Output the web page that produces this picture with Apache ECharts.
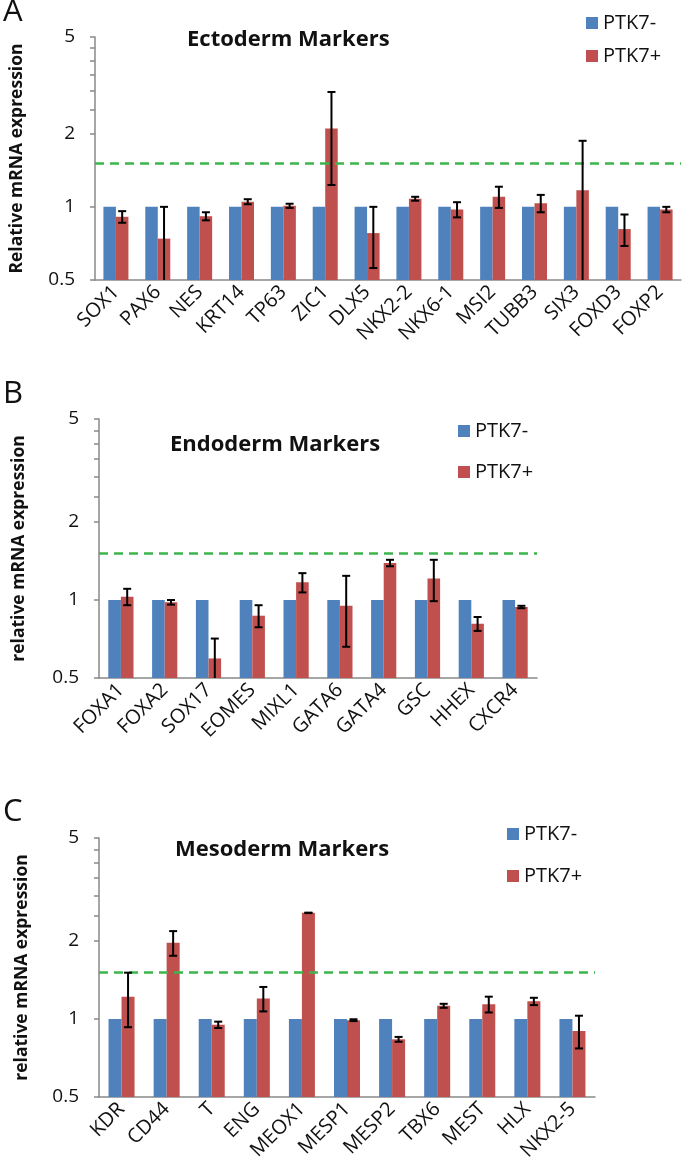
<!DOCTYPE html>
<html style="height: 100%">
<head>
    <meta charset="utf-8">
</head>
<body style="height: 100%; margin: 0; background: #fff">
<div id="container" style="width: 692px; height: 1175px"></div>
<script type="text/javascript" src="https://cdn.jsdelivr.net/npm/echarts@6/dist/echarts.min.js"></script>
<script type="text/javascript">
    // panel A - ectoderm
    var ectoGenes = ['SOX1', 'PAX6', 'NES', 'KRT14', 'TP63', 'ZIC1', 'DLX5', 'NKX2-2', 'NKX6-1', 'MSI2', 'TUBB3', 'SIX3', 'FOXD3', 'FOXP2'];
    var ectoNeg = [1, 1, 1, 1, 1, 1, 1, 1, 1, 1, 1, 1, 1, 1];
    var ectoPos = [0.91, 0.74, 0.915, 1.05, 1.01, 2.1, 0.78, 1.08, 0.975, 1.10, 1.035, 1.17, 0.81, 0.975];
    var ectoErr = [0.05, 0.26, 0.035, 0.025, 0.02, 0.87, 0.22, 0.02, 0.07, 0.11, 0.085, 0.70, 0.12, 0.025];

    // panel B - endoderm
    var endoGenes = ['FOXA1', 'FOXA2', 'SOX17', 'EOMES', 'MIXL1', 'GATA6', 'GATA4', 'GSC', 'HHEX', 'CXCR4'];
    var endoNeg = [1, 1, 1, 1, 1, 1, 1, 1, 1, 1];
    var endoPos = [1.03, 0.98, 0.595, 0.87, 1.17, 0.95, 1.39, 1.21, 0.81, 0.94];
    var endoErr = [0.075, 0.02, 0.115, 0.085, 0.10, 0.29, 0.04, 0.22, 0.05, 0.01];

    // panel C - mesoderm
    var mesoGenes = ['KDR', 'CD44', 'T', 'ENG', 'MEOX1', 'MESP1', 'MESP2', 'TBX6', 'MEST', 'HLX', 'NKX2-5'];
    var mesoNeg = [1, 1, 1, 1, 1, 1, 1, 1, 1, 1, 1];
    var mesoPos = [1.22, 1.97, 0.95, 1.20, 2.57, 0.99, 0.835, 1.125, 1.14, 1.17, 0.90];
    var mesoErr = [0.29, 0.215, 0.027, 0.13, 0.005, 0.008, 0.018, 0.02, 0.08, 0.038, 0.13];

    var yLabels = [0.5, 1, 2, 5];
    var yMinorTicks = [0.5, 1, 2, 2.5, 3, 3.5, 4, 4.5, 5];
    var cutoff = 1.5;

    var blue = '#4F81BD';
    var red = '#C0504D';
    var font = '"Open Sans", "Noto Sans", sans-serif';

    // log scale from 0.5 (=0) to 5 (=1), so bars start at the 0.5 baseline
    function t(v) {
        return Math.log(v / 0.5) / Math.LN10;
    }

    function errRender(bw) {
        return function (params, api) {
            var x = api.coord([api.value(0), 0])[0] + bw / 2;
            var yl = api.coord([api.value(0), api.value(1)])[1];
            var yh = api.coord([api.value(0), api.value(2)])[1];
            var st = {stroke: '#000', lineWidth: 2};
            return {
                type: 'group',
                children: [
                    {type: 'line', shape: {x1: x, y1: yh, x2: x, y2: yl}, style: st},
                    {type: 'line', shape: {x1: x - 4, y1: yh, x2: x + 4, y2: yh}, style: st},
                    {type: 'line', shape: {x1: x - 4, y1: yl, x2: x + 4, y2: yl}, style: st}
                ]
            };
        };
    }

    function errData(pos, err) {
        var out = [];
        for (var i = 0; i < pos.length; i++) {
            out.push([i, t(Math.max(pos[i] - err[i], 0.3)), t(pos[i] + err[i])]);
        }
        return out;
    }

    var grids = [
        {left: 93, top: 37, width: 588, height: 243},
        {left: 99, top: 419, width: 438, height: 259},
        {left: 99, top: 838, width: 496, height: 259}
    ];
    var panels = [
        {genes: ectoGenes, neg: ectoNeg, pos: ectoPos, err: ectoErr, bw: 12.5, name: 'Relative mRNA expression', gap: 69},
        {genes: endoGenes, neg: endoNeg, pos: endoPos, err: endoErr, bw: 12.6, name: 'relative mRNA expression', gap: 71},
        {genes: mesoGenes, neg: mesoNeg, pos: mesoPos, err: mesoErr, bw: 13, name: 'relative mRNA expression', gap: 68}
    ];

    var xAxes = [], yAxes = [], series = [];
    panels.forEach(function (p, k) {
        xAxes.push({
            type: 'category',
            gridIndex: k,
            data: p.genes,
            axisLine: {lineStyle: {color: '#898989', width: 1.5}},
            axisTick: {length: 5, lineStyle: {color: '#898989', width: 1.5}},
            axisLabel: {rotate: 45, margin: 9, fontSize: 20, color: '#111', fontFamily: font, interval: 0}
        });
        yAxes.push({
            type: 'value',
            gridIndex: k,
            min: 0,
            max: 1,
            name: p.name,
            nameLocation: 'middle',
            nameGap: p.gap,
            nameTextStyle: {fontSize: 17.5, fontWeight: 'bold', color: '#111', fontFamily: font},
            splitLine: {show: false},
            axisLine: {show: true, lineStyle: {color: '#898989', width: 1.5}},
            axisTick: {show: true, length: 5, customValues: yMinorTicks.map(t), lineStyle: {color: '#898989', width: 1.5}},
            axisLabel: {
                customValues: yLabels.map(t),
                margin: 20,
                fontSize: 19,
                color: '#111',
                fontFamily: font,
                formatter: function (v) {
                    return String(Math.round(0.5 * Math.pow(10, v) * 10) / 10);
                }
            }
        });
        series.push({
            name: 'PTK7-', type: 'bar', xAxisIndex: k, yAxisIndex: k,
            barWidth: p.bw, barGap: '0%',
            itemStyle: {color: blue},
            data: p.neg.map(t)
        });
        series.push({
            name: 'PTK7+', type: 'bar', xAxisIndex: k, yAxisIndex: k,
            barWidth: p.bw, barGap: '0%',
            itemStyle: {color: red},
            data: p.pos.map(t),
            markLine: {
                silent: true,
                symbol: ['none', 'none'],
                label: {show: false},
                lineStyle: {color: '#3DB54A', type: [9, 6], width: 2.5},
                data: [{yAxis: t(cutoff)}]
            }
        });
        series.push({
            type: 'custom', xAxisIndex: k, yAxisIndex: k,
            clip: true,
            renderItem: errRender(p.bw),
            data: errData(p.pos, p.err),
            z: 5
        });
    });

    var titleStyle = {fontSize: 22, fontWeight: 'bold', color: '#111', fontFamily: font};
    var letterStyle = {fontSize: 31, fontWeight: 'normal', color: '#111', fontFamily: font};
    var legendBase = {
        orient: 'vertical', padding: 0, itemWidth: 12, itemHeight: 12, icon: 'rect',
        data: ['PTK7-', 'PTK7+'],
        textStyle: {fontSize: 20, color: '#111', fontFamily: font}
    };

    var dom = document.getElementById('container');
    var myChart = echarts.init(dom);
    myChart.setOption({
        animation: false,
        backgroundColor: '#fff',
        title: [
            {text: 'A', left: 3, top: -3, padding: 0, textStyle: letterStyle},
            {text: 'B', left: 3, top: 379, padding: 0, textStyle: letterStyle},
            {text: 'C', left: 3, top: 797, padding: 0, textStyle: letterStyle},
            {text: 'Ectoderm Markers', left: 187, top: 29, padding: 0, textStyle: titleStyle},
            {text: 'Endoderm Markers', left: 170, top: 434, padding: 0, textStyle: titleStyle},
            {text: 'Mesoderm Markers', left: 175, top: 839, padding: 0, textStyle: titleStyle}
        ],
        legend: [
            echarts.util.extend({left: 586, top: 13, itemGap: 13}, legendBase),
            echarts.util.extend({left: 458, top: 421, itemGap: 21}, legendBase),
            echarts.util.extend({left: 507, top: 824, itemGap: 22}, legendBase)
        ],
        grid: grids,
        xAxis: xAxes,
        yAxis: yAxes,
        series: series
    });
</script>
</body>
</html>
